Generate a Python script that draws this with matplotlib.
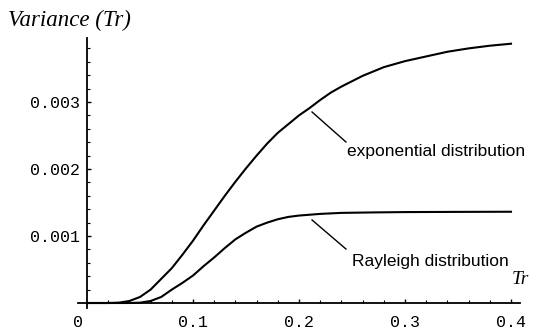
import matplotlib
matplotlib.use("Agg")
import matplotlib.pyplot as plt
import numpy as np

# Data (variance in units of 1e-3)
tr_exp = [0, 0.02, 0.03, 0.04, 0.05, 0.06, 0.07, 0.08, 0.09, 0.10, 0.11, 0.12, 0.13,
          0.14, 0.15, 0.16, 0.17, 0.18, 0.19, 0.20, 0.21, 0.22, 0.23, 0.24, 0.25,
          0.26, 0.28, 0.30, 0.32, 0.34, 0.36, 0.38, 0.40]
var_exp = [0, 0, 0.005, 0.03, 0.09, 0.2, 0.36, 0.52, 0.72, 0.93, 1.16, 1.38, 1.60,
           1.81, 2.01, 2.20, 2.38, 2.54, 2.67, 2.80, 2.91, 3.03, 3.14, 3.23, 3.31,
           3.39, 3.52, 3.61, 3.68, 3.75, 3.80, 3.84, 3.87]

tr_ray = [0, 0.04, 0.05, 0.06, 0.07, 0.08, 0.09, 0.10, 0.11, 0.12, 0.13, 0.14, 0.15,
          0.16, 0.17, 0.18, 0.19, 0.20, 0.22, 0.24, 0.27, 0.30, 0.35, 0.40]
var_ray = [0, 0, 0.005, 0.03, 0.09, 0.20, 0.30, 0.41, 0.55, 0.68, 0.82, 0.95, 1.05,
           1.14, 1.20, 1.25, 1.285, 1.305, 1.33, 1.345, 1.352, 1.357, 1.36, 1.362]

xticks = [0.1, 0.2, 0.3, 0.4]
xticklabels = ["0.1", "0.2", "0.3", "0.4"]
yticks = [0.001, 0.002, 0.003]
yticklabels = ["0.001", "0.002", "0.003"]

fig = plt.figure(figsize=(5.33, 3.32), dpi=100)
ax = fig.add_axes([0, 0, 1, 1])
ax.patch.set_alpha(0)

ax.plot(tr_exp, np.array(var_exp) * 1e-3, color="black", lw=1.5,
        solid_joinstyle="round")
ax.plot(tr_ray, np.array(var_ray) * 1e-3, color="black", lw=1.5,
        solid_joinstyle="round")

ax.set_xlim(-87 / 1060, (533 - 87) / 1060)
ax.set_ylim(-(332 - 303) / 67000, 303 / 67000)

for s in ["top", "right"]:
    ax.spines[s].set_visible(False)
ax.spines["left"].set_position(("data", 0))
ax.spines["bottom"].set_position(("data", 0))
ax.spines["left"].set_bounds(-0.0000746, 0.003955)
ax.spines["bottom"].set_bounds(-0.0085, 0.4085)
ax.spines["left"].set_linewidth(1.3)
ax.spines["bottom"].set_linewidth(1.3)

mono = "Liberation Mono"
ax.set_xticks(xticks)
ax.set_xticklabels(xticklabels, fontfamily=mono, fontsize=12)
ax.set_yticks(yticks)
ax.set_yticklabels(yticklabels, fontfamily=mono, fontsize=12)
ax.set_xticks(np.arange(0.02, 0.41, 0.02), minor=True)
ax.set_yticks(np.arange(0.0002, 0.00395, 0.0002), minor=True)
ax.tick_params(axis="both", which="major", direction="in", length=3, width=1)
ax.tick_params(axis="both", which="minor", direction="in", length=2, width=0.8)
ax.tick_params(axis="x", which="major", pad=8.5)
ax.tick_params(axis="y", which="major", pad=5)

ax.text(-0.0085, -0.000284, "0", fontfamily=mono, fontsize=12, ha="center", va="center")

# leader lines and labels
ax.plot([0.2123, 0.2443], [0.002851, 0.002403], color="black", lw=1)
ax.text(0.2453, 0.002254, "exponential distribution", fontfamily="Liberation Sans",
        fontsize=12.5, ha="left", va="center")
ax.plot([0.2123, 0.2443], [0.001239, 0.000806], color="black", lw=1)
ax.text(0.250, 0.000612, "Rayleigh distribution", fontfamily="Liberation Sans",
        fontsize=12.5, ha="left", va="center")

ax.text(0.401, 0.000358, "Tr", fontfamily="Liberation Serif", style="italic",
        fontsize=14, ha="left", va="center")
fig.text(8 / 533, 1 - 20 / 332, "Variance (Tr)", fontfamily="Liberation Serif",
         style="italic", fontsize=16.5, ha="left", va="center")

fig.savefig("out.png", dpi=100)
